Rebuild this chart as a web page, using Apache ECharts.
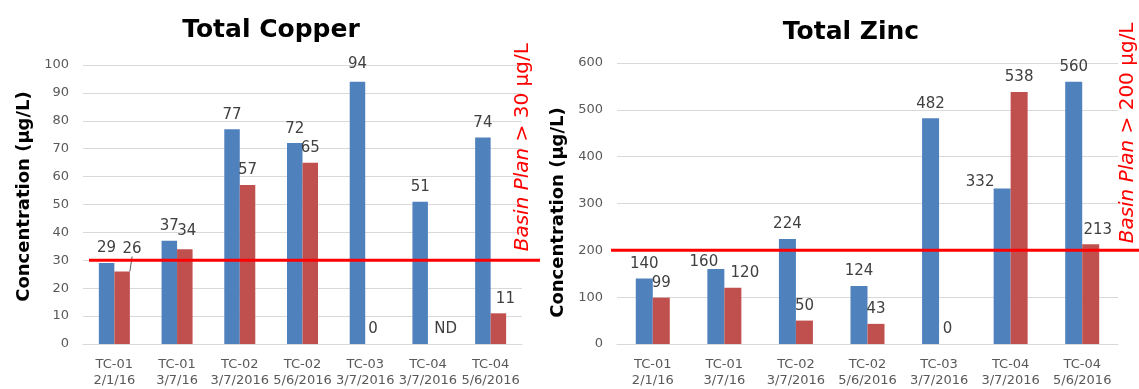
<!DOCTYPE html>
<html>
<head>
<meta charset="utf-8">
<script src="https://cdn.jsdelivr.net/npm/echarts@6/dist/echarts.min.js"></script>
<style>
  html, body { margin: 0; padding: 0; background: #ffffff; }
  #chart { width: 1139px; height: 389px; }
</style>
</head>
<body>
<div id="chart"></div>
<script>
// Sampling points (station + date)
const categories = [
  'TC-01\n2/1/16', 'TC-01\n3/7/16', 'TC-02\n3/7/2016', 'TC-02\n5/6/2016',
  'TC-03\n3/7/2016', 'TC-04\n3/7/2016', 'TC-04\n5/6/2016'
];

// Total copper, µg/L (null = not detected)
const copperBlue = [29, 37, 77, 72, 94, 51, 74];
const copperRed  = [26, 34, 57, 65, 0, null, 11];

// Total zinc, µg/L
const zincBlue = [140, 160, 224, 124, 482, 332, 560];
const zincRed  = [99, 120, 50, 43, 0, 538, 213];

// Value axes: [min, max, step]
const copperAxis = [0, 100, 10];
const zincAxis   = [0, 600, 100];

// Basin Plan limits
const copperLimit = 30;
const zincLimit = 200;
const copperLimitText = ['Basin Plan', ' > 30 µg/L'];
const zincLimitText   = ['Basin Plan', ' > 200 µg/L'];

const FONT = 'DejaVu Sans';
const BLUE = '#4F81BD';
const RED = '#C0504D';

const grids = [
  { left: 83, top: 65, width: 439, height: 280 },
  { left: 617, top: 63, width: 501, height: 284 }
];

// small manual label shifts [dx, dy] keyed by series, then data index
const labelNudges = {
  0: { 4: [0, -3] },
  1: { 0: [10, -8], 1: [2, -4], 5: [10, 0], 6: [7, 0] },
  2: { 1: [-12, 8], 5: [-22, 8] },
  3: { 1: [12, 0], 6: [7, 0] }
};

function yAxisOpt(gridIndex, range, padding) {
  return {
    type: 'value', gridIndex,
    min: range[0], max: range[1], interval: range[2],
    name: 'Concentration (µg/L)',
    nameLocation: 'middle', nameGap: 50, nameRotate: 90,
    nameTextStyle: { fontFamily: FONT, fontWeight: 'bold', fontSize: 18, color: '#000', padding },
    axisLine: { show: false }, axisTick: { show: false },
    axisLabel: { fontFamily: FONT, fontSize: 13, color: '#595959', margin: 14 },
    splitLine: { lineStyle: { color: '#d9d9d9', width: 1 } }
  };
}

function xAxisOpt(gridIndex) {
  return {
    type: 'category', gridIndex, data: categories,
    axisLine: { lineStyle: { color: '#d9d9d9', width: 1 } },
    axisTick: { show: false },
    axisLabel: { interval: 0, fontFamily: FONT, fontSize: 13, color: '#595959', margin: 13, lineHeight: 16 }
  };
}

function barSeries(name, idx, values, color, barWidth) {
  return {
    name, type: 'bar',
    xAxisIndex: idx < 2 ? 0 : 1, yAxisIndex: idx < 2 ? 0 : 1,
    barWidth, barGap: '0%',
    itemStyle: { color },
    label: {
      show: true, position: 'top', distance: 7,
      fontFamily: FONT, fontSize: 15, color: '#404040'
    },
    labelLayout: function (p) {
      const n = (labelNudges[idx] || {})[p.dataIndex];
      return n ? { dx: n[0], dy: n[1] } : {};
    },
    data: values.map(function (v, i) {
      if (v === null) {
        return { value: 0, label: { formatter: 'ND' } };
      }
      if (idx === 1 && i === 0) {
        return { value: v, labelLine: { show: true, lineStyle: { color: '#595959', width: 1 } } };
      }
      return v;
    }),
    z: 2
  };
}

const chart = echarts.init(document.getElementById('chart'), null, { renderer: 'canvas' });

chart.setOption({
  animation: false,
  backgroundColor: '#ffffff',
  title: [
    { text: 'Total Copper', left: 266, top: 13, textAlign: 'center',
      textStyle: { fontFamily: FONT, fontWeight: 'bold', fontSize: 25, color: '#000' } },
    { text: 'Total Zinc', left: 846, top: 15, textAlign: 'center',
      textStyle: { fontFamily: FONT, fontWeight: 'bold', fontSize: 25, color: '#000' } }
  ],
  grid: grids,
  xAxis: [xAxisOpt(0), xAxisOpt(1)],
  yAxis: [yAxisOpt(0, copperAxis, [0, 0, 0, 16]), yAxisOpt(1, zincAxis, [0, 18, 0, 0])],
  series: [
    barSeries('Copper A', 0, copperBlue, BLUE, 15.5),
    barSeries('Copper B', 1, copperRed, RED, 15.5),
    barSeries('Zinc A', 2, zincBlue, BLUE, 17),
    barSeries('Zinc B', 3, zincRed, RED, 17)
  ]
});

// Basin Plan limit lines and their rotated captions, placed from the value axes
const yCu = chart.convertToPixel({ yAxisIndex: 0 }, copperLimit);
const yZn = chart.convertToPixel({ yAxisIndex: 1 }, zincLimit);
const W = chart.getWidth();

function limitCaption(x, y, parts) {
  return {
    type: 'text', x, y, rotation: Math.PI / 2, z: 20,
    style: {
      text: '{i|' + parts[0] + '}{n|' + parts[1] + '}',
      textAlign: 'left', textVerticalAlign: 'middle',
      rich: {
        i: { fontFamily: FONT, fontSize: 20, fontStyle: 'italic', fill: '#ff0000', color: '#ff0000' },
        n: { fontFamily: FONT, fontSize: 20, fill: '#ff0000', color: '#ff0000' }
      }
    }
  };
}

chart.setOption({
  graphic: [
    { type: 'line', z: 10,
      shape: { x1: grids[0].left + 6, y1: yCu, x2: grids[0].left + grids[0].width + 18, y2: yCu },
      style: { stroke: '#ff0000', lineWidth: 3 } },
    { type: 'line', z: 10,
      shape: { x1: grids[1].left - 6, y1: yZn, x2: W, y2: yZn },
      style: { stroke: '#ff0000', lineWidth: 3 } },
    limitCaption(grids[0].left + grids[0].width + 1, yCu - 9, copperLimitText),
    limitCaption(grids[1].left + grids[1].width + 10, yZn - 7, zincLimitText)
  ]
});
</script>
</body>
</html>
